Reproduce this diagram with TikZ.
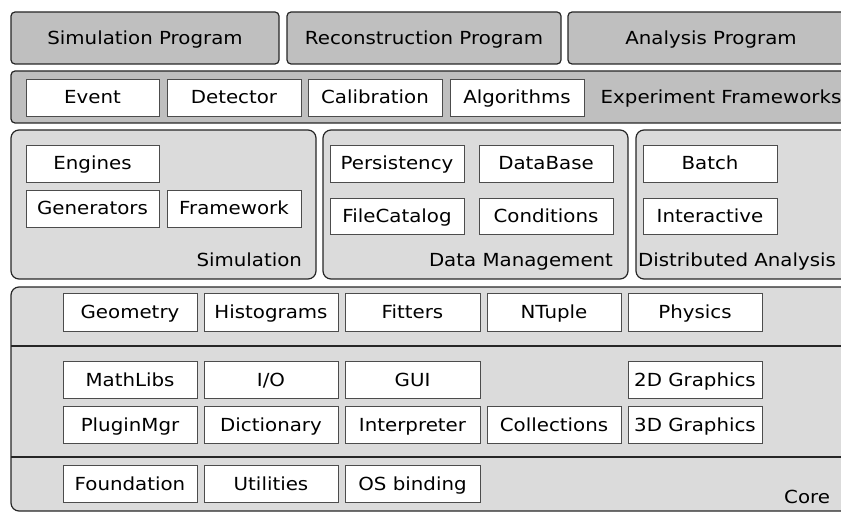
\documentclass[tikz,border=0pt]{standalone}
\usepackage{fontspec}
\setmainfont[FakeStretch=1.1]{DejaVu Sans}
\begin{document}
\begin{tikzpicture}[x=1pt,y=-1pt,
  every node/.style={font=\fontsize{18}{20}\selectfont, inner sep=0pt, outer sep=0pt, text height=13pt, text depth=0pt},
  prog/.style={draw=black!85, line width=1.2pt, fill=black!25, rounded corners=4pt, rectangle},
  panel/.style={draw=black!85, line width=1.2pt, fill=black!14, rounded corners=8pt, rectangle},
  wbox/.style={draw=black!70, line width=0.9pt, fill=white, rectangle, minimum width=134pt, minimum height=37pt},
  lbl/.style={}]
\useasboundingbox (0,0) rectangle (841,513);
\clip (0,0) rectangle (841,513);
% top programs
\node[prog, minimum width=268pt, minimum height=52pt] (simprog) at (145,38) {Simulation Program};
\node[prog, minimum width=274pt, minimum height=52pt] (recoprog) at (424,38) {Reconstruction Program};
\node[prog, minimum width=286pt, minimum height=52pt] (anaprog) at (711,38) {Analysis Program};
% experiment frameworks
\node[prog, minimum width=839pt, minimum height=52pt] (expfw) at (430.5,97) {};
\node[wbox, minimum width=133pt] (event) at (92.5,97.5) {Event};
\node[wbox] (detector) at (234,97.5) {Detector};
\node[wbox] (calibration) at (375,97.5) {Calibration};
\node[wbox] (algorithms) at (517,97.5) {Algorithms};
\node[lbl] (explbl) at (721,97) {Experiment Frameworks};
% middle panels
\node[panel, minimum width=305pt, minimum height=149pt] (simpanel) at (163.5,204.5) {};
\node[panel, minimum width=305pt, minimum height=149pt] (dmpanel) at (475.5,204.5) {};
\node[panel, minimum width=305pt, minimum height=149pt] (dapanel) at (788.5,204.5) {};
\node[wbox, minimum width=133pt] (engines) at (92.5,163.5) {Engines};
\node[wbox, minimum width=133pt] (generators) at (92.5,208.5) {Generators};
\node[wbox] (framework) at (234,208.5) {Framework};
\node[lbl, anchor=east] (simlbl) at (302,259.5) {Simulation};
\node[wbox] (persistency) at (397,163.5) {Persistency};
\node[wbox] (database) at (546,163.5) {DataBase};
\node[wbox, minimum height=36pt] (filecatalog) at (397,216) {FileCatalog};
\node[wbox, minimum height=36pt] (conditions) at (546,216) {Conditions};
\node[lbl, anchor=east] (dmlbl) at (613,260.5) {Data Management};
\node[wbox] (batch) at (710,163.5) {Batch};
\node[wbox, minimum height=36pt] (interactive) at (710,216) {Interactive};
\node[lbl, anchor=west] (dalbl) at (638,260.5) {Distributed Analysis};
% core
\node[panel, minimum width=839pt, minimum height=224pt] (core) at (430.5,399) {};
\coordinate (l1a) at (11,346); \coordinate (l1b) at (850,346);
\coordinate (l2a) at (11,457); \coordinate (l2b) at (850,457);
\draw[draw=black!85, line width=1.2pt] (l1a) -- (l1b);
\draw[draw=black!85, line width=1.2pt] (l2a) -- (l2b);
\node[wbox, minimum height=38pt] (geometry) at (130,312) {Geometry};
\node[wbox, minimum height=38pt] (histograms) at (271,312) {Histograms};
\node[wbox, minimum height=38pt, minimum width=135pt] (fitters) at (412.5,312) {Fitters};
\node[wbox, minimum height=38pt] (ntuple) at (554,312) {NTuple};
\node[wbox, minimum height=38pt] (physics) at (695,312) {Physics};
\node[wbox] (mathlibs) at (130,379.5) {MathLibs};
\node[wbox] (io) at (271,379.5) {I/O};
\node[wbox, minimum width=135pt] (gui) at (412.5,379.5) {GUI};
\node[wbox] (gfx2d) at (695,379.5) {2D Graphics};
\node[wbox] (pluginmgr) at (130,424.5) {PluginMgr};
\node[wbox] (dictionary) at (271,424.5) {Dictionary};
\node[wbox, minimum width=135pt] (interpreter) at (412.5,424.5) {Interpreter};
\node[wbox] (collections) at (554,424.5) {Collections};
\node[wbox] (gfx3d) at (695,424.5) {3D Graphics};
\node[wbox] (foundation) at (130,483.5) {Foundation};
\node[wbox] (utilities) at (271,483.5) {Utilities};
\node[wbox, minimum width=135pt] (osbinding) at (412.5,483.5) {OS binding};
\node[lbl, anchor=east] (corelbl) at (830,497) {Core};
\end{tikzpicture}
\end{document}
